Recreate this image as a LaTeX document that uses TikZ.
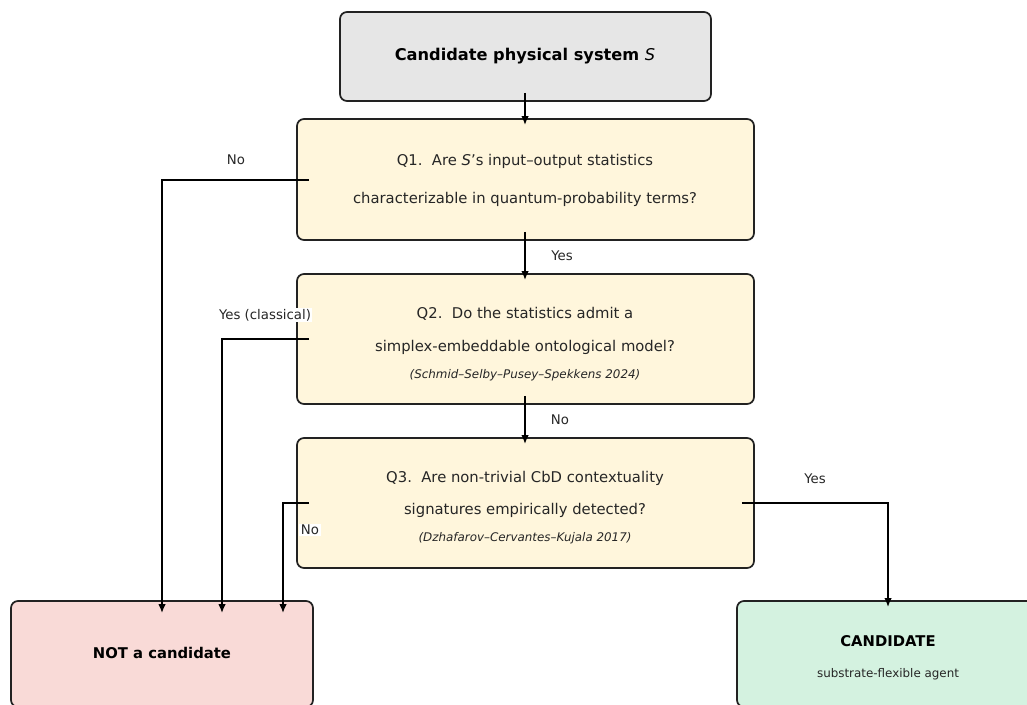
\documentclass[tikz,border=0pt]{standalone}
\usepackage{fontspec}
\setmainfont{DejaVu Sans}
\usetikzlibrary{arrows.meta}
\definecolor{topfill}{HTML}{E6E6E6}
\definecolor{qfill}{HTML}{FFF6DC}
\definecolor{nofill}{HTML}{F9DAD7}
\definecolor{yesfill}{HTML}{D4F2E0}
\definecolor{edge}{HTML}{222222}
\begin{document}
\begin{tikzpicture}[x=1pt,y=-1pt,
  box/.style={draw=edge,line width=1.7pt,rounded corners=7pt,inner sep=0pt},
  qtext/.style={font=\fontsize{14.8}{17}\selectfont,text=black!85,inner sep=0pt},
  cite/.style={font=\fontsize{11.9}{14}\selectfont\itshape,text=black!85,inner sep=0pt},
  title/.style={inner sep=0pt,font=\fontsize{14.8}{17}\selectfont\bfseries},
  lbl/.style={font=\fontsize{13.3}{15}\selectfont,text=black!85,inner sep=1.5pt},
  wlbl/.style={lbl,fill=white},
  arr/.style={draw=black,line width=2pt,-{Latex[length=9pt,width=7.5pt]}}]
\useasboundingbox (0,0) rectangle (1027,704);
\clip (0,0) rectangle (1027,704);
% boxes
\node[box,fill=topfill,minimum width=371pt,minimum height=89pt] (top) at (525.5,56.5) {};
\node[box,fill=qfill,minimum width=457pt,minimum height=121pt] (q1) at (525.5,179.5) {};
\node[box,fill=qfill,minimum width=457pt,minimum height=130pt] (q2) at (525.5,339) {};
\node[box,fill=qfill,minimum width=457pt,minimum height=130pt] (q3) at (525.5,503) {};
\node[box,fill=nofill,minimum width=302pt,minimum height=106pt] (not) at (162,654) {};
\node[box,fill=yesfill,minimum width=302pt,minimum height=106pt] (cand) at (888,654) {};
% texts
\node[inner sep=0pt,font=\fontsize{16.2}{19}\selectfont\bfseries] (toptxt) at (525,56) {Candidate physical system {\mdseries\itshape S}};
\node[qtext] (q1a) at (525,161) {Q1.\ \ Are {\itshape S}'s input–output statistics};
\node[qtext] (q1b) at (525,199) {characterizable in quantum-probability terms?};
\node[qtext] (q2a) at (525,314) {Q2.\ \ Do the statistics admit a};
\node[qtext] (q2b) at (525,347) {simplex-embeddable ontological model?};
\node[cite] (q2c) at (525,375) {(Schmid–Selby–Pusey–Spekkens 2024)};
\node[qtext] (q3a) at (525,478) {Q3.\ \ Are non-trivial CbD contextuality};
\node[qtext] (q3b) at (525,510) {signatures empirically detected?};
\node[cite] (q3c) at (525,538) {(Dzhafarov–Cervantes–Kujala 2017)};
\node[title] (nottxt) at (162,653) {NOT a candidate};
\node[title] (candtxt) at (888,641) {CANDIDATE};
\node[inner sep=0pt,font=\fontsize{11.9}{14}\selectfont,text=black!85] (candsub) at (888,674) {substrate-flexible agent};
% connectors
\draw[arr] ([xshift=-0.5pt,yshift=9pt]top.south) -- ([xshift=-0.5pt,yshift=-7pt]q1.north);
\draw[arr] ([xshift=-0.5pt,yshift=9pt]q1.south) -- ([xshift=-0.5pt,yshift=-7pt]q2.north);
\draw[arr] ([xshift=-0.5pt,yshift=9pt]q2.south) -- ([xshift=-0.5pt,yshift=-7pt]q3.north);
\draw[arr] ([xshift=13pt]q1.west) -| ([yshift=-13pt]not.north);
\draw[arr] ([xshift=13pt]q2.west) -| ([xshift=60pt,yshift=-13pt]not.north);
\draw[arr] ([xshift=13pt]q3.west) -| ([xshift=121pt,yshift=-13pt]not.north);
\draw[arr] ([xshift=-13pt]q3.east) -| ([yshift=-7pt]cand.north);
% labels
\node[lbl] (l1) at (236,160) {No};
\node[lbl] (l2) at (562,256) {Yes};
\node[wlbl] (l3) at (265,315) {Yes (classical)};
\node[lbl] (l4) at (560,420) {No};
\node[wlbl] (l5) at (310,530) {No};
\node[lbl] (l6) at (815,479) {Yes};
\end{tikzpicture}
\end{document}
